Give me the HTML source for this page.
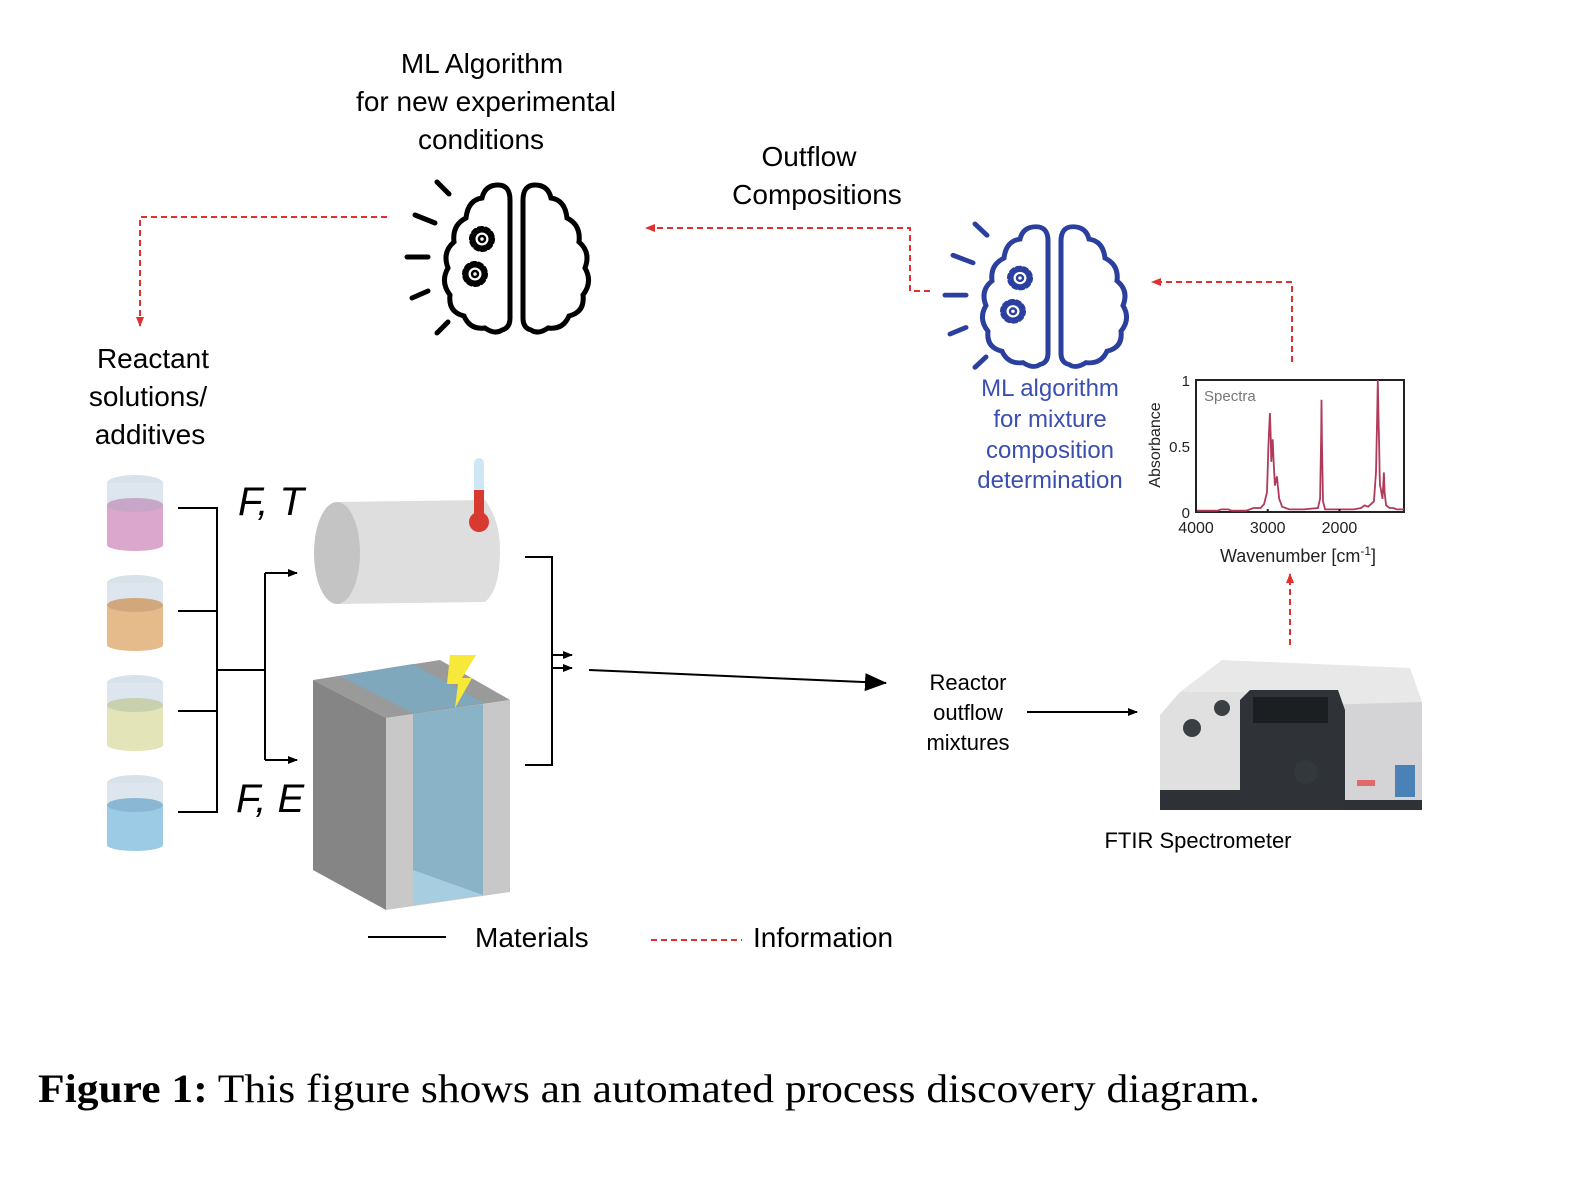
<!DOCTYPE html>
<html><head><meta charset="utf-8"><style>
html,body{margin:0;padding:0;background:#fff;}
svg{display:block;font-family:"Liberation Sans",sans-serif;}
</style></head><body>
<svg width="1588" height="1182" viewBox="0 0 1588 1182" xmlns="http://www.w3.org/2000/svg">
<defs>
<marker id="ab" markerWidth="10" markerHeight="10" refX="9" refY="5" orient="auto" markerUnits="userSpaceOnUse"><path d="M0,1 L10,5 L0,9 Z" fill="#000"/></marker>
<marker id="abig" markerWidth="22" markerHeight="20" refX="21" refY="10" orient="auto" markerUnits="userSpaceOnUse"><path d="M0,1 L22,10 L0,19 Z" fill="#000"/></marker>
<marker id="ar" markerWidth="10" markerHeight="10" refX="9" refY="5" orient="auto" markerUnits="userSpaceOnUse"><path d="M0,1 L10,5 L0,9 Z" fill="#e03030"/></marker>
<g id="brain">
<path d="M70,20 Q70,5 58,5 Q45,5 42,18 Q28,20 26,38 Q12,45 14,62 Q2,72 8,88 Q0,102 10,115 Q8,132 24,136 Q30,150 45,148 Q55,155 62,150 Q70,148 70,138 Z"/>
<path transform="translate(153,0) scale(-1,1)" d="M70,20 Q70,5 58,5 Q45,5 42,18 Q28,20 26,38 Q12,45 14,62 Q2,72 8,88 Q0,102 10,115 Q8,132 24,136 Q30,150 45,148 Q55,155 62,150 Q70,148 70,138 Z"/>
<circle cx="42" cy="59" r="11" stroke-width="4" stroke-dasharray="3.5 3.4"/>
<circle cx="42" cy="59" r="8" stroke-width="3"/><circle cx="42" cy="59" r="3" stroke-width="2.5"/>
<circle cx="35" cy="94" r="11" stroke-width="4" stroke-dasharray="3.5 3.4"/>
<circle cx="35" cy="94" r="8" stroke-width="3"/><circle cx="35" cy="94" r="3" stroke-width="2.5"/>
<line x1="-3" y1="2" x2="9" y2="14"/><line x1="-25" y1="35" x2="-5" y2="43"/><line x1="-33" y1="77" x2="-12" y2="77"/><line x1="-28" y1="118" x2="-12" y2="111"/><line x1="-3" y1="153" x2="8" y2="142"/>
</g>
<g id="beaker">
<ellipse cx="28" cy="8" rx="28" ry="8" fill="#d8e2ea"/>
<rect x="0" y="8" width="56" height="62" fill="#dde6ee"/>
</g>
</defs>

<g font-size="28" text-anchor="middle" fill="#000">
<text x="482" y="73">ML Algorithm</text>
<text x="486" y="111">for new experimental</text>
<text x="481" y="149">conditions</text>
<text x="809" y="166">Outflow</text>
<text x="817" y="204">Compositions</text>
<text x="153" y="368">Reactant</text>
<text x="148" y="406">solutions/</text>
<text x="150" y="444">additives</text>
</g>

<g transform="translate(440,180)" fill="none" stroke="#000" stroke-width="5" stroke-linecap="round"><use href="#brain"/></g>
<g transform="translate(978,222) scale(1,0.95)" fill="none" stroke="#2a3f9e" stroke-width="5" stroke-linecap="round"><use href="#brain"/></g>

<g font-size="24" text-anchor="middle" fill="#3b4fb0">
<text x="1050" y="396">ML algorithm</text>
<text x="1050" y="427">for mixture</text>
<text x="1050" y="458">composition</text>
<text x="1050" y="488">determination</text>
</g>

<g fill="none" stroke="#e03030" stroke-width="2" stroke-dasharray="6 4">
<path d="M387,217 L140,217 L140,326" marker-end="url(#ar)"/>
<path d="M930,291 L910,291 L910,228 L646,228" marker-end="url(#ar)"/>
<path d="M1292,362 L1292,282 L1152,282" marker-end="url(#ar)"/>
<path d="M1290,645 L1290,574" marker-end="url(#ar)"/>
</g>

<g id="spectrum"></g>

<g>
<g transform="translate(107,475)"><use href="#beaker"/><rect x="0" y="30" width="56" height="40" fill="#dba7cd"/><ellipse cx="28" cy="30" rx="28" ry="7" fill="#c7a6c7"/><ellipse cx="28" cy="70" rx="28" ry="6" fill="#dba7cd"/></g>
<g transform="translate(107,575)"><use href="#beaker"/><rect x="0" y="30" width="56" height="40" fill="#e6bb8c"/><ellipse cx="28" cy="30" rx="28" ry="7" fill="#d3a77c"/><ellipse cx="28" cy="70" rx="28" ry="6" fill="#e6bb8c"/></g>
<g transform="translate(107,675)"><use href="#beaker"/><rect x="0" y="30" width="56" height="40" fill="#e3e4b8"/><ellipse cx="28" cy="30" rx="28" ry="7" fill="#c8d0b0"/><ellipse cx="28" cy="70" rx="28" ry="6" fill="#e3e4b8"/></g>
<g transform="translate(107,775)"><use href="#beaker"/><rect x="0" y="30" width="56" height="40" fill="#9ccbe6"/><ellipse cx="28" cy="30" rx="28" ry="7" fill="#8ab8d4"/><ellipse cx="28" cy="70" rx="28" ry="6" fill="#9ccbe6"/></g>
</g>

<g fill="none" stroke="#000" stroke-width="2">
<path d="M178,508 L217,508 L217,812 L178,812"/>
<path d="M178,611 L217,611 M178,711 L217,711 M217,670 L265,670"/>
<path d="M265,573 L265,760"/>
<path d="M265,573 L297,573" marker-end="url(#ab)"/>
<path d="M265,760 L297,760" marker-end="url(#ab)"/>
<path d="M525,557 L552,557 L552,765 L525,765"/>
<path d="M552,655 L572,655" marker-end="url(#ab)"/>
<path d="M552,668 L572,668" marker-end="url(#ab)"/>
<path d="M589,670 L886,683" marker-end="url(#abig)"/>
<path d="M1027,712 L1137,712" marker-end="url(#ab)"/>
</g>

<g font-size="40" font-style="italic" fill="#000">
<text x="238" y="515">F, T</text>
<text x="236" y="812">F, E</text>
</g>

<g>
<path d="M337,502 L485,500 Q500,520 500,550 Q500,590 485,602 L337,604 Z" fill="#dedede"/>
<ellipse cx="337" cy="553" rx="23" ry="51" fill="#c4c4c4"/>
<rect x="474" y="458" width="10" height="60" rx="5" fill="#cfe6f4"/>
<rect x="474" y="490" width="10" height="30" fill="#d93a30"/>
<circle cx="479" cy="522" r="10" fill="#d93a30"/>
</g>

<g>
<polygon points="313,680 440,660 510,700 386,718" fill="#9a9a9a"/>
<polygon points="340,676 413,664 483,703 413,713" fill="#7fa8bc"/>
<polygon points="313,680 386,718 386,910 313,870" fill="#858585"/>
<polygon points="386,718 510,700 510,892 386,910" fill="#c8c8c8"/>
<polygon points="413,714 483,704 483,895 413,905" fill="#8bb3c7"/>
<polygon points="413,870 483,895 413,905" fill="#a6cde0"/>
<polygon points="450,655 476,655 462,678 472,678 455,708 458,684 447,684" fill="#f7e83a"/>
</g>

<g font-size="22" text-anchor="middle" fill="#000">
<text x="968" y="690">Reactor</text>
<text x="968" y="720">outflow</text>
<text x="968" y="750">mixtures</text>
<text x="1198" y="848">FTIR Spectrometer</text>
</g>

<g>
<polygon points="1180,692 1222,660 1410,668 1422,702 1330,706 1238,700" fill="#e8e8e8"/>
<rect x="1160" y="775" width="262" height="35" fill="#2e3236"/>
<polygon points="1160,715 1180,692 1245,692 1245,790 1160,790" fill="#e0e0e0"/>
<circle cx="1192" cy="728" r="9" fill="#3a3f44"/><circle cx="1222" cy="708" r="8" fill="#3a3f44"/>
<polygon points="1320,705 1422,702 1422,800 1320,800" fill="#d4d4d6"/>
<polygon points="1240,700 1250,690 1338,690 1345,710 1345,810 1240,810" fill="#2f3338"/>
<rect x="1253" y="697" width="75" height="26" fill="#1c1f22"/>
<circle cx="1306" cy="772" r="12" fill="#33383d"/>
<rect x="1395" y="765" width="20" height="32" fill="#4a82b8"/>
<rect x="1357" y="780" width="18" height="6" fill="#e06a6a"/>
</g>

<g>
<line x1="368" y1="937" x2="446" y2="937" stroke="#000" stroke-width="2"/>
<text x="475" y="947" font-size="28">Materials</text>
<line x1="651" y1="940" x2="742" y2="940" stroke="#e03030" stroke-width="2" stroke-dasharray="6 4"/>
<text x="753" y="947" font-size="28">Information</text>
</g>

<text x="38" y="1102" font-size="40" font-family="Liberation Serif, serif" textLength="1222" lengthAdjust="spacingAndGlyphs"><tspan font-weight="bold">Figure 1:</tspan> This figure shows an automated process discovery diagram.</text>
</svg>
<script>
const wavenumbers=[4000,3700,3650,3600,3550,3500,3300,3200,3100,3050,3010,2990,2970,2960,2950,2940,2930,2920,2900,2880,2870,2860,2840,2800,2700,2600,2500,2300,2270,2255,2250,2245,2230,2200,2000,1800,1700,1650,1600,1520,1490,1475,1465,1460,1455,1445,1440,1435,1425,1400,1390,1380,1370,1350,1300,1250,1200,1150,1100];
const absorbance=[0.01,0.01,0.02,0.02,0.02,0.01,0.01,0.03,0.03,0.06,0.15,0.5,0.75,0.6,0.38,0.5,0.55,0.4,0.2,0.25,0.27,0.2,0.1,0.04,0.02,0.02,0.02,0.03,0.1,0.6,0.85,0.55,0.08,0.02,0.02,0.02,0.03,0.05,0.04,0.08,0.3,0.7,1.0,0.85,0.72,0.45,0.3,0.2,0.18,0.1,0.2,0.3,0.15,0.05,0.03,0.03,0.02,0.02,0.02];
const xTicks=[4000,3000,2000];
const yTicks=[0,0.5,1];
const yTickLabels=["0","0.5","1"];
const NS="http://www.w3.org/2000/svg";
const g=document.getElementById('spectrum');
const x0=1196,x1=1404,y0=512,y1=380;
function xs(w){return x0+(4000-w)/(4000-1100)*(x1-x0);}
function ys(a){return y0-a*(y0-y1);}
function mk(t,at){const e=document.createElementNS(NS,t);for(const k in at)e.setAttribute(k,at[k]);g.appendChild(e);return e;}
const frame=mk('rect',{x:x0,y:y1,width:x1-x0,height:y0-y1,fill:'none',stroke:'#222','stroke-width':2});


let d='';
wavenumbers.forEach((w,i)=>{d+=(i?'L':'M')+xs(w).toFixed(1)+','+ys(absorbance[i]).toFixed(1);});
const line=mk('path',{d:d,fill:'none',stroke:'#b03a5a','stroke-width':1.8});


xTicks.forEach(t=>{
 const tx=mk('text',{x:xs(t),y:533,'font-size':16,'text-anchor':'middle',fill:'#222'});tx.textContent=t;
 
 
 mk('line',{x1:xs(t),y1:y0,x2:xs(t),y2:y0-3,stroke:'#222','stroke-width':2});
});
yTicks.forEach((t,i)=>{
 const ty=mk('text',{x:x0-6,y:ys(t)+6,'font-size':15,'text-anchor':'end',fill:'#222'});ty.textContent=yTickLabels[i];
 
 
});
const st=mk('text',{x:1204,y:401,'font-size':15,fill:'#777'});st.textContent='Spectra';


const yl=mk('text',{x:0,y:0,'font-size':16,'text-anchor':'middle',fill:'#222',transform:'translate(1160,445) rotate(-90)'});yl.textContent='Absorbance';


const xl=mk('text',{x:1298,y:562,'font-size':18,'text-anchor':'middle',fill:'#222'});
xl.innerHTML='Wavenumber [cm<tspan dy="-7" font-size="12">-1</tspan><tspan dy="7">]</tspan>';


</script>
</body></html>
